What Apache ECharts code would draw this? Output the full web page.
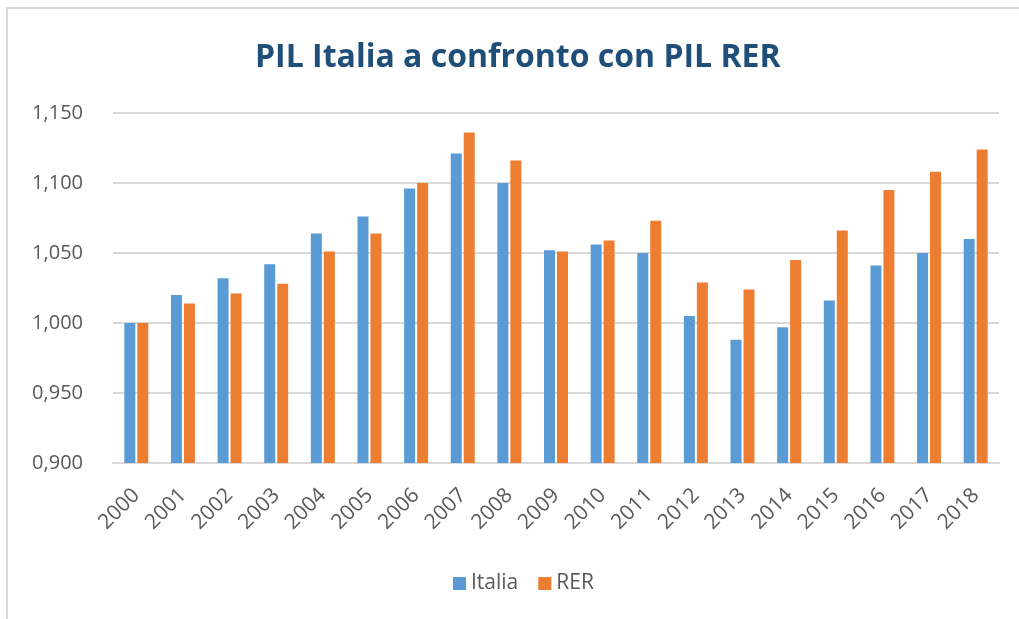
<!DOCTYPE html>
<html>
<head>
<meta charset="utf-8">
<script src="https://cdn.jsdelivr.net/npm/echarts@6/dist/echarts.min.js"></script>
<style>
    html, body {margin: 0; padding: 0; background: #fff;}
    #chart {position: absolute; left: 0; top: 0; width: 1019px; height: 619px;}
    #frame {
        position: absolute; left: 6px; top: 7px; width: 1013px; height: 612px;
        border-top: 2px solid #d9d9d9; border-left: 2px solid #d9d9d9;
        box-sizing: border-box; pointer-events: none;
    }
</style>
</head>
<body>
<div id="chart"></div>
<div id="frame"></div>
<script>
    // categories
    const years = ['2000', '2001', '2002', '2003', '2004', '2005', '2006', '2007', '2008', '2009',
        '2010', '2011', '2012', '2013', '2014', '2015', '2016', '2017', '2018'];

    // series values (index, 2000 = 1)
    const italia = [1.000, 1.020, 1.032, 1.042, 1.064, 1.076, 1.096, 1.121, 1.100, 1.052,
        1.056, 1.050, 1.005, 0.988, 0.997, 1.016, 1.041, 1.050, 1.060];
    const rer = [1.000, 1.014, 1.021, 1.028, 1.051, 1.064, 1.100, 1.136, 1.116, 1.051,
        1.059, 1.073, 1.029, 1.024, 1.045, 1.066, 1.095, 1.108, 1.124];

    // y axis ticks
    const yMin = 0.9;
    const yMax = 1.15;
    const yStep = 0.05;

    const fontFamily = 'Open Sans, Noto Sans, sans-serif';
    const textColor = '#595959';
    const gridColor = '#d9d9d9';

    const chart = echarts.init(document.getElementById('chart'));

    chart.setOption({
        animation: false,
        title: {
            text: 'PIL Italia a confronto con PIL RER',
            left: 250,
            top: 37,
            textStyle: {
                fontFamily: fontFamily,
                fontSize: 32,
                fontWeight: 'bold',
                color: '#1f4e79'
            }
        },
        legend: {
            top: 568,
            left: 448,
            itemWidth: 13,
            itemHeight: 13,
            itemGap: 20,
            icon: 'rect',
            textStyle: {fontFamily: fontFamily, fontSize: 21, color: textColor}
        },
        grid: {left: 113, right: 20, top: 113, bottom: 156},
        xAxis: {
            type: 'category',
            data: years,
            axisTick: {show: false},
            axisLine: {lineStyle: {color: gridColor, width: 2}},
            axisLabel: {
                rotate: 45,
                margin: 29,
                fontFamily: fontFamily,
                fontSize: 21,
                color: textColor
            }
        },
        yAxis: {
            type: 'value',
            min: yMin,
            max: yMax,
            interval: yStep,
            axisLine: {show: false},
            axisTick: {show: false},
            splitLine: {lineStyle: {color: gridColor, width: 2}},
            axisLabel: {
                margin: 30,
                fontFamily: fontFamily,
                fontSize: 20,
                color: textColor,
                formatter: v => v.toFixed(3).replace('.', ',')
            }
        },
        series: [
            {
                name: 'Italia',
                type: 'bar',
                data: italia,
                barWidth: 11,
                barGap: '18%',
                itemStyle: {color: '#5b9bd5'}
            },
            {
                name: 'RER',
                type: 'bar',
                data: rer,
                barWidth: 11,
                itemStyle: {color: '#ed7d31'}
            }
        ]
    });
</script>
</body>
</html>
